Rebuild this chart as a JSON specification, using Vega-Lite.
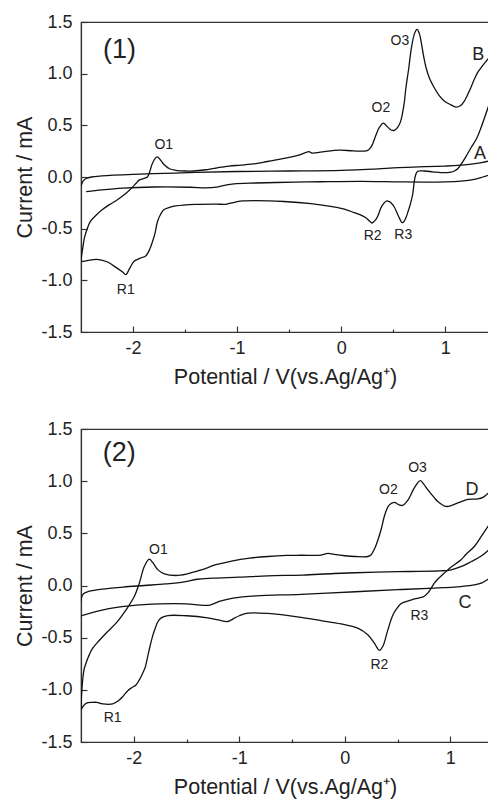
{
"$schema": "https://vega.github.io/schema/vega-lite/v6.json",
"padding": {"left": 14, "top": 12, "right": 0, "bottom": 0},
"spacing": 30,
"config": {
  "view": {"stroke": "#333", "strokeWidth": 1.2},
  "font": "Liberation Sans",
  "axis": {"labelFont": "Liberation Sans", "titleFont": "Liberation Sans", "labelFontSize": 18, "titleFontSize": 21.5, "titleFontWeight": "normal", "labelColor": "#222", "titleColor": "#222", "domainColor": "#333", "tickColor": "#333", "domainWidth": 1.2, "tickWidth": 1.2, "grid": false},
  "text": {"font": "Liberation Sans", "color": "#222"}
},
"datasets": {
"p1": [
{"c":"A1","i":0,"x":-2.5,"y":-0.085},{"c":"A1","i":1,"x":-2.48,"y":-0.04},{"c":"A1","i":2,"x":-2.45,"y":-0.015},{"c":"A1","i":3,"x":-2.4,"y":0.0},{"c":"A1","i":4,"x":-2.3,"y":0.01},{"c":"A1","i":5,"x":-2.0,"y":0.025},{"c":"A1","i":6,"x":-1.7,"y":0.035},{"c":"A1","i":7,"x":-1.4,"y":0.045},{"c":"A1","i":8,"x":-1.0,"y":0.053},{"c":"A1","i":9,"x":-0.5,"y":0.058},{"c":"A1","i":10,"x":0.0,"y":0.065},{"c":"A1","i":11,"x":0.3,"y":0.076},{"c":"A1","i":12,"x":0.55,"y":0.09},{"c":"A1","i":13,"x":0.8,"y":0.1},{"c":"A1","i":14,"x":1.0,"y":0.106},{"c":"A1","i":15,"x":1.12,"y":0.112},{"c":"A1","i":16,"x":1.25,"y":0.125},{"c":"A1","i":17,"x":1.35,"y":0.14},{"c":"A1","i":18,"x":1.43,"y":0.157},
{"c":"A2","i":0,"x":1.43,"y":0.022},{"c":"A2","i":1,"x":1.36,"y":0.0},{"c":"A2","i":2,"x":1.28,"y":-0.022},{"c":"A2","i":3,"x":1.15,"y":-0.04},{"c":"A2","i":4,"x":1.0,"y":-0.047},{"c":"A2","i":5,"x":0.6,"y":-0.048},{"c":"A2","i":6,"x":0.19,"y":-0.042},{"c":"A2","i":7,"x":-0.2,"y":-0.046},{"c":"A2","i":8,"x":-0.45,"y":-0.05},{"c":"A2","i":9,"x":-0.82,"y":-0.058},{"c":"A2","i":10,"x":-1.03,"y":-0.066},{"c":"A2","i":11,"x":-1.12,"y":-0.08},{"c":"A2","i":12,"x":-1.2,"y":-0.098},{"c":"A2","i":13,"x":-1.3,"y":-0.105},{"c":"A2","i":14,"x":-1.45,"y":-0.099},{"c":"A2","i":15,"x":-1.8,"y":-0.097},{"c":"A2","i":16,"x":-2.1,"y":-0.108},{"c":"A2","i":17,"x":-2.3,"y":-0.125},{"c":"A2","i":18,"x":-2.45,"y":-0.142},
{"c":"B1","i":0,"x":-2.5,"y":-0.8},{"c":"B1","i":1,"x":-2.485,"y":-0.7},{"c":"B1","i":2,"x":-2.465,"y":-0.58},{"c":"B1","i":3,"x":-2.44,"y":-0.5},{"c":"B1","i":4,"x":-2.41,"y":-0.43},{"c":"B1","i":5,"x":-2.37,"y":-0.385},{"c":"B1","i":6,"x":-2.3,"y":-0.32},{"c":"B1","i":7,"x":-2.231,"y":-0.27},{"c":"B1","i":8,"x":-2.15,"y":-0.22},{"c":"B1","i":9,"x":-2.07,"y":-0.16},{"c":"B1","i":10,"x":-2.006,"y":-0.1},{"c":"B1","i":11,"x":-1.97,"y":-0.06},{"c":"B1","i":12,"x":-1.942,"y":-0.03},{"c":"B1","i":13,"x":-1.9,"y":-0.015},{"c":"B1","i":14,"x":-1.862,"y":0.0},{"c":"B1","i":15,"x":-1.84,"y":0.05},{"c":"B1","i":16,"x":-1.81,"y":0.14},{"c":"B1","i":17,"x":-1.77,"y":0.194},{"c":"B1","i":18,"x":-1.74,"y":0.17},{"c":"B1","i":19,"x":-1.705,"y":0.123},{"c":"B1","i":20,"x":-1.65,"y":0.08},{"c":"B1","i":21,"x":-1.589,"y":0.065},{"c":"B1","i":22,"x":-1.5,"y":0.058},{"c":"B1","i":23,"x":-1.42,"y":0.058},{"c":"B1","i":24,"x":-1.3,"y":0.07},{"c":"B1","i":25,"x":-1.15,"y":0.095},{"c":"B1","i":26,"x":-1.077,"y":0.106},{"c":"B1","i":27,"x":-0.96,"y":0.115},{"c":"B1","i":28,"x":-0.82,"y":0.129},{"c":"B1","i":29,"x":-0.71,"y":0.15},{"c":"B1","i":30,"x":-0.6,"y":0.17},{"c":"B1","i":31,"x":-0.5,"y":0.19},{"c":"B1","i":32,"x":-0.4,"y":0.215},{"c":"B1","i":33,"x":-0.31,"y":0.245},{"c":"B1","i":34,"x":-0.28,"y":0.232},{"c":"B1","i":35,"x":-0.2,"y":0.24},{"c":"B1","i":36,"x":-0.07,"y":0.258},{"c":"B1","i":37,"x":0.0,"y":0.26},{"c":"B1","i":38,"x":0.12,"y":0.252},{"c":"B1","i":39,"x":0.25,"y":0.256},{"c":"B1","i":40,"x":0.28,"y":0.28},{"c":"B1","i":41,"x":0.302,"y":0.32},{"c":"B1","i":42,"x":0.335,"y":0.41},{"c":"B1","i":43,"x":0.365,"y":0.477},{"c":"B1","i":44,"x":0.405,"y":0.522},{"c":"B1","i":45,"x":0.44,"y":0.49},{"c":"B1","i":46,"x":0.48,"y":0.455},{"c":"B1","i":47,"x":0.51,"y":0.452},{"c":"B1","i":48,"x":0.56,"y":0.51},{"c":"B1","i":49,"x":0.6,"y":0.68},{"c":"B1","i":50,"x":0.622,"y":0.864},{"c":"B1","i":51,"x":0.65,"y":1.06},{"c":"B1","i":52,"x":0.67,"y":1.22},{"c":"B1","i":53,"x":0.702,"y":1.38},{"c":"B1","i":54,"x":0.728,"y":1.428},{"c":"B1","i":55,"x":0.75,"y":1.39},{"c":"B1","i":56,"x":0.767,"y":1.315},{"c":"B1","i":57,"x":0.79,"y":1.18},{"c":"B1","i":58,"x":0.815,"y":1.06},{"c":"B1","i":59,"x":0.85,"y":0.95},{"c":"B1","i":60,"x":0.894,"y":0.864},{"c":"B1","i":61,"x":0.94,"y":0.79},{"c":"B1","i":62,"x":0.99,"y":0.735},{"c":"B1","i":63,"x":1.05,"y":0.7},{"c":"B1","i":64,"x":1.103,"y":0.677},{"c":"B1","i":65,"x":1.145,"y":0.69},{"c":"B1","i":66,"x":1.183,"y":0.735},{"c":"B1","i":67,"x":1.23,"y":0.83},{"c":"B1","i":68,"x":1.279,"y":0.945},{"c":"B1","i":69,"x":1.31,"y":1.01},{"c":"B1","i":70,"x":1.343,"y":1.057},{"c":"B1","i":71,"x":1.43,"y":1.165},
{"c":"B2","i":0,"x":1.43,"y":0.73},{"c":"B2","i":1,"x":1.343,"y":0.477},{"c":"B2","i":2,"x":1.3,"y":0.37},{"c":"B2","i":3,"x":1.247,"y":0.283},{"c":"B2","i":4,"x":1.2,"y":0.2},{"c":"B2","i":5,"x":1.151,"y":0.123},{"c":"B2","i":6,"x":1.12,"y":0.08},{"c":"B2","i":7,"x":1.087,"y":0.058},{"c":"B2","i":8,"x":1.055,"y":0.047},{"c":"B2","i":9,"x":0.959,"y":0.042},{"c":"B2","i":10,"x":0.88,"y":0.05},{"c":"B2","i":11,"x":0.8,"y":0.058},{"c":"B2","i":12,"x":0.735,"y":0.055},{"c":"B2","i":13,"x":0.715,"y":0.02},{"c":"B2","i":14,"x":0.7,"y":-0.06},{"c":"B2","i":15,"x":0.687,"y":-0.167},{"c":"B2","i":16,"x":0.665,"y":-0.26},{"c":"B2","i":17,"x":0.644,"y":-0.329},{"c":"B2","i":18,"x":0.62,"y":-0.4},{"c":"B2","i":19,"x":0.6,"y":-0.435},{"c":"B2","i":20,"x":0.584,"y":-0.442},{"c":"B2","i":21,"x":0.565,"y":-0.41},{"c":"B2","i":22,"x":0.542,"y":-0.361},{"c":"B2","i":23,"x":0.51,"y":-0.29},{"c":"B2","i":24,"x":0.478,"y":-0.249},{"c":"B2","i":25,"x":0.45,"y":-0.233},{"c":"B2","i":26,"x":0.43,"y":-0.235},{"c":"B2","i":27,"x":0.405,"y":-0.26},{"c":"B2","i":28,"x":0.382,"y":-0.297},{"c":"B2","i":29,"x":0.355,"y":-0.37},{"c":"B2","i":30,"x":0.334,"y":-0.409},{"c":"B2","i":31,"x":0.31,"y":-0.435},{"c":"B2","i":32,"x":0.297,"y":-0.445},{"c":"B2","i":33,"x":0.265,"y":-0.42},{"c":"B2","i":34,"x":0.237,"y":-0.394},{"c":"B2","i":35,"x":0.18,"y":-0.365},{"c":"B2","i":36,"x":0.125,"y":-0.345},{"c":"B2","i":37,"x":0.03,"y":-0.31},{"c":"B2","i":38,"x":-0.1,"y":-0.285},{"c":"B2","i":39,"x":-0.29,"y":-0.258},{"c":"B2","i":40,"x":-0.55,"y":-0.237},{"c":"B2","i":41,"x":-0.82,"y":-0.228},{"c":"B2","i":42,"x":-0.95,"y":-0.232},{"c":"B2","i":43,"x":-1.05,"y":-0.25},{"c":"B2","i":44,"x":-1.109,"y":-0.264},{"c":"B2","i":45,"x":-1.2,"y":-0.262},{"c":"B2","i":46,"x":-1.4,"y":-0.265},{"c":"B2","i":47,"x":-1.589,"y":-0.28},{"c":"B2","i":48,"x":-1.65,"y":-0.295},{"c":"B2","i":49,"x":-1.702,"y":-0.315},{"c":"B2","i":50,"x":-1.735,"y":-0.36},{"c":"B2","i":51,"x":-1.765,"y":-0.43},{"c":"B2","i":52,"x":-1.79,"y":-0.55},{"c":"B2","i":53,"x":-1.813,"y":-0.625},{"c":"B2","i":54,"x":-1.84,"y":-0.7},{"c":"B2","i":55,"x":-1.878,"y":-0.764},{"c":"B2","i":56,"x":-1.93,"y":-0.785},{"c":"B2","i":57,"x":-1.99,"y":-0.815},{"c":"B2","i":58,"x":-2.03,"y":-0.88},{"c":"B2","i":59,"x":-2.07,"y":-0.945},{"c":"B2","i":60,"x":-2.1,"y":-0.92},{"c":"B2","i":61,"x":-2.186,"y":-0.86},{"c":"B2","i":62,"x":-2.25,"y":-0.82},{"c":"B2","i":63,"x":-2.35,"y":-0.797},{"c":"B2","i":64,"x":-2.44,"y":-0.81},{"c":"B2","i":65,"x":-2.5,"y":-0.82}
],
"p2": [
{"c":"C1","i":0,"x":-2.5,"y":-0.15},{"c":"C1","i":1,"x":-2.49,"y":-0.1},{"c":"C1","i":2,"x":-2.47,"y":-0.075},{"c":"C1","i":3,"x":-2.44,"y":-0.06},{"c":"C1","i":4,"x":-2.3,"y":-0.035},{"c":"C1","i":5,"x":-2.1,"y":-0.015},{"c":"C1","i":6,"x":-1.9,"y":0.0},{"c":"C1","i":7,"x":-1.7,"y":0.015},{"c":"C1","i":8,"x":-1.52,"y":0.035},{"c":"C1","i":9,"x":-1.4,"y":0.06},{"c":"C1","i":10,"x":-1.25,"y":0.07},{"c":"C1","i":11,"x":-1.0,"y":0.08},{"c":"C1","i":12,"x":-0.73,"y":0.093},{"c":"C1","i":13,"x":-0.4,"y":0.1},{"c":"C1","i":14,"x":-0.1,"y":0.115},{"c":"C1","i":15,"x":0.3,"y":0.128},{"c":"C1","i":16,"x":0.6,"y":0.134},{"c":"C1","i":17,"x":0.9,"y":0.14},{"c":"C1","i":18,"x":1.0,"y":0.148},{"c":"C1","i":19,"x":1.1,"y":0.18},{"c":"C1","i":20,"x":1.2,"y":0.23},{"c":"C1","i":21,"x":1.29,"y":0.28},{"c":"C1","i":22,"x":1.38,"y":0.355},
{"c":"C2","i":0,"x":1.38,"y":0.075},{"c":"C2","i":1,"x":1.3,"y":0.025},{"c":"C2","i":2,"x":1.23,"y":0.005},{"c":"C2","i":3,"x":1.1,"y":-0.01},{"c":"C2","i":4,"x":0.85,"y":-0.025},{"c":"C2","i":5,"x":0.5,"y":-0.04},{"c":"C2","i":6,"x":0.1,"y":-0.06},{"c":"C2","i":7,"x":-0.415,"y":-0.085},{"c":"C2","i":8,"x":-0.84,"y":-0.099},{"c":"C2","i":9,"x":-1.06,"y":-0.121},{"c":"C2","i":10,"x":-1.19,"y":-0.153},{"c":"C2","i":11,"x":-1.28,"y":-0.188},{"c":"C2","i":12,"x":-1.4,"y":-0.185},{"c":"C2","i":13,"x":-1.5,"y":-0.176},{"c":"C2","i":14,"x":-1.75,"y":-0.176},{"c":"C2","i":15,"x":-2.04,"y":-0.195},{"c":"C2","i":16,"x":-2.29,"y":-0.233},{"c":"C2","i":17,"x":-2.5,"y":-0.291},
{"c":"D1","i":0,"x":-2.5,"y":-1.19},{"c":"D1","i":1,"x":-2.495,"y":-1.05},{"c":"D1","i":2,"x":-2.484,"y":-0.905},{"c":"D1","i":3,"x":-2.47,"y":-0.8},{"c":"D1","i":4,"x":-2.453,"y":-0.745},{"c":"D1","i":5,"x":-2.42,"y":-0.66},{"c":"D1","i":6,"x":-2.389,"y":-0.6},{"c":"D1","i":7,"x":-2.33,"y":-0.53},{"c":"D1","i":8,"x":-2.263,"y":-0.457},{"c":"D1","i":9,"x":-2.168,"y":-0.361},{"c":"D1","i":10,"x":-2.073,"y":-0.233},{"c":"D1","i":11,"x":-1.995,"y":-0.106},{"c":"D1","i":12,"x":-1.947,"y":0.023},{"c":"D1","i":13,"x":-1.9,"y":0.182},{"c":"D1","i":14,"x":-1.853,"y":0.253},{"c":"D1","i":15,"x":-1.82,"y":0.22},{"c":"D1","i":16,"x":-1.77,"y":0.15},{"c":"D1","i":17,"x":-1.71,"y":0.112},{"c":"D1","i":18,"x":-1.6,"y":0.096},{"c":"D1","i":19,"x":-1.5,"y":0.11},{"c":"D1","i":20,"x":-1.36,"y":0.15},{"c":"D1","i":21,"x":-1.22,"y":0.199},{"c":"D1","i":22,"x":-1.062,"y":0.237},{"c":"D1","i":23,"x":-0.9,"y":0.262},{"c":"D1","i":24,"x":-0.73,"y":0.278},{"c":"D1","i":25,"x":-0.55,"y":0.288},{"c":"D1","i":26,"x":-0.415,"y":0.29},{"c":"D1","i":27,"x":-0.225,"y":0.292},{"c":"D1","i":28,"x":-0.16,"y":0.308},{"c":"D1","i":29,"x":-0.1,"y":0.298},{"c":"D1","i":30,"x":0.0,"y":0.285},{"c":"D1","i":31,"x":0.1,"y":0.278},{"c":"D1","i":32,"x":0.218,"y":0.278},{"c":"D1","i":33,"x":0.25,"y":0.295},{"c":"D1","i":34,"x":0.29,"y":0.37},{"c":"D1","i":35,"x":0.344,"y":0.534},{"c":"D1","i":36,"x":0.38,"y":0.68},{"c":"D1","i":37,"x":0.42,"y":0.77},{"c":"D1","i":38,"x":0.47,"y":0.797},{"c":"D1","i":39,"x":0.51,"y":0.775},{"c":"D1","i":40,"x":0.549,"y":0.768},{"c":"D1","i":41,"x":0.6,"y":0.82},{"c":"D1","i":42,"x":0.659,"y":0.935},{"c":"D1","i":43,"x":0.716,"y":1.005},{"c":"D1","i":44,"x":0.75,"y":0.97},{"c":"D1","i":45,"x":0.786,"y":0.918},{"c":"D1","i":46,"x":0.85,"y":0.84},{"c":"D1","i":47,"x":0.881,"y":0.806},{"c":"D1","i":48,"x":0.96,"y":0.758},{"c":"D1","i":49,"x":1.02,"y":0.77},{"c":"D1","i":50,"x":1.071,"y":0.791},{"c":"D1","i":51,"x":1.166,"y":0.825},{"c":"D1","i":52,"x":1.26,"y":0.83},{"c":"D1","i":53,"x":1.31,"y":0.845},{"c":"D1","i":54,"x":1.38,"y":0.905},
{"c":"D2","i":0,"x":1.38,"y":0.6},{"c":"D2","i":1,"x":1.3,"y":0.48},{"c":"D2","i":2,"x":1.228,"y":0.374},{"c":"D2","i":3,"x":1.15,"y":0.3},{"c":"D2","i":4,"x":1.102,"y":0.247},{"c":"D2","i":5,"x":1.0,"y":0.17},{"c":"D2","i":6,"x":0.944,"y":0.119},{"c":"D2","i":7,"x":0.88,"y":0.06},{"c":"D2","i":8,"x":0.849,"y":0.023},{"c":"D2","i":9,"x":0.81,"y":-0.04},{"c":"D2","i":10,"x":0.786,"y":-0.073},{"c":"D2","i":11,"x":0.75,"y":-0.105},{"c":"D2","i":12,"x":0.7,"y":-0.12},{"c":"D2","i":13,"x":0.64,"y":-0.135},{"c":"D2","i":14,"x":0.58,"y":-0.155},{"c":"D2","i":15,"x":0.532,"y":-0.175},{"c":"D2","i":16,"x":0.49,"y":-0.225},{"c":"D2","i":17,"x":0.453,"y":-0.29},{"c":"D2","i":18,"x":0.407,"y":-0.43},{"c":"D2","i":19,"x":0.36,"y":-0.585},{"c":"D2","i":20,"x":0.328,"y":-0.622},{"c":"D2","i":21,"x":0.3,"y":-0.585},{"c":"D2","i":22,"x":0.28,"y":-0.553},{"c":"D2","i":23,"x":0.218,"y":-0.473},{"c":"D2","i":24,"x":0.123,"y":-0.409},{"c":"D2","i":25,"x":-0.036,"y":-0.368},{"c":"D2","i":26,"x":-0.225,"y":-0.336},{"c":"D2","i":27,"x":-0.415,"y":-0.305},{"c":"D2","i":28,"x":-0.73,"y":-0.268},{"c":"D2","i":29,"x":-0.92,"y":-0.265},{"c":"D2","i":30,"x":-1.0,"y":-0.29},{"c":"D2","i":31,"x":-1.046,"y":-0.313},{"c":"D2","i":32,"x":-1.11,"y":-0.345},{"c":"D2","i":33,"x":-1.2,"y":-0.33},{"c":"D2","i":34,"x":-1.3,"y":-0.31},{"c":"D2","i":35,"x":-1.5,"y":-0.29},{"c":"D2","i":36,"x":-1.678,"y":-0.288},{"c":"D2","i":37,"x":-1.74,"y":-0.31},{"c":"D2","i":38,"x":-1.773,"y":-0.35},{"c":"D2","i":39,"x":-1.8,"y":-0.42},{"c":"D2","i":40,"x":-1.82,"y":-0.48},{"c":"D2","i":41,"x":-1.845,"y":-0.58},{"c":"D2","i":42,"x":-1.868,"y":-0.681},{"c":"D2","i":43,"x":-1.89,"y":-0.78},{"c":"D2","i":44,"x":-1.915,"y":-0.841},{"c":"D2","i":45,"x":-1.95,"y":-0.91},{"c":"D2","i":46,"x":-1.979,"y":-0.953},{"c":"D2","i":47,"x":-2.02,"y":-0.98},{"c":"D2","i":48,"x":-2.057,"y":-1.008},{"c":"D2","i":49,"x":-2.1,"y":-1.06},{"c":"D2","i":50,"x":-2.137,"y":-1.097},{"c":"D2","i":51,"x":-2.2,"y":-1.135},{"c":"D2","i":52,"x":-2.294,"y":-1.135},{"c":"D2","i":53,"x":-2.35,"y":-1.12},{"c":"D2","i":54,"x":-2.389,"y":-1.12},{"c":"D2","i":55,"x":-2.453,"y":-1.13},{"c":"D2","i":56,"x":-2.5,"y":-1.19}
],
"l1": [
{"t":"(1)","k":"panel","x":-2.13,"y":1.23},
{"t":"O1","k":"peak","x":-1.705,"y":0.306},{"t":"O2","k":"peak","x":0.382,"y":0.67},{"t":"O3","k":"peak","x":0.564,"y":1.32},
{"t":"R1","k":"peak","x":-2.07,"y":-1.096},{"t":"R2","k":"peak","x":0.302,"y":-0.567},{"t":"R3","k":"peak","x":0.596,"y":-0.564},
{"t":"A","k":"curve","x":1.333,"y":0.225},{"t":"B","k":"curve","x":1.317,"y":1.18}
],
"l2": [
{"t":"(2)","k":"panel","x":-2.137,"y":1.27},
{"t":"O1","k":"peak","x":-1.767,"y":0.336},{"t":"O2","k":"peak","x":0.413,"y":0.918},{"t":"O3","k":"peak","x":0.69,"y":1.127},
{"t":"R1","k":"peak","x":-2.2,"y":-1.273},{"t":"R2","k":"peak","x":0.328,"y":-0.761},{"t":"R3","k":"peak","x":0.707,"y":-0.297},
{"t":"D","k":"curve","x":1.206,"y":0.918},{"t":"C","k":"curve","x":1.14,"y":-0.169}
]
},
"vconcat": [
{
 "width": 408, "height": 310,
 "layer": [
  {"data": {"name": "p1"},
   "mark": {"type": "line", "interpolate": "catmull-rom", "color": "#111", "strokeWidth": 1.3, "clip": true},
   "encoding": {
    "x": {"field": "x", "type": "quantitative", "scale": {"domain": [-2.5, 1.42], "nice": false, "zero": false},
          "axis": {"values": [-2, -1.5, -1, -0.5, 0, 0.5, 1], "labelExpr": "datum.value % 1 === 0 ? replace(format(datum.value, 'd'), '\u2212', '-') : ''", "tickSize": {"condition": {"test": "datum.value % 1 === 0", "value": -6}, "value": -3}, "labelPadding": 13, "title": "Potential / V(vs.Ag/Ag\u207a)", "titlePadding": 9}},
    "y": {"field": "y", "type": "quantitative", "scale": {"domain": [-1.5, 1.5], "nice": false, "zero": false},
          "axis": {"values": [-1.5, -1.25, -1, -0.75, -0.5, -0.25, 0, 0.25, 0.5, 0.75, 1, 1.25, 1.5], "labelExpr": "datum.value % 0.5 === 0 ? replace(format(datum.value, '.1f'), '\u2212', '-') : ''", "tickSize": {"condition": {"test": "datum.value % 0.5 === 0", "value": -6}, "value": -3}, "labelPadding": 15, "title": "Current / mA", "titlePadding": 4}},
    "detail": {"field": "c"},
    "order": {"field": "i", "type": "quantitative"}
   }},
  {"data": {"name": "l1"}, "transform": [{"filter": "datum.k === 'panel'"}],
   "mark": {"type": "text", "fontSize": 27, "align": "center", "baseline": "middle"},
   "encoding": {"x": {"field": "x", "type": "quantitative", "scale": {"domain": [-2.5, 1.42], "nice": false, "zero": false}},
                "y": {"field": "y", "type": "quantitative", "scale": {"domain": [-1.5, 1.5], "nice": false, "zero": false}},
                "text": {"field": "t"}}},
  {"data": {"name": "l1"}, "transform": [{"filter": "datum.k === 'peak'"}],
   "mark": {"type": "text", "fontSize": 14, "align": "center", "baseline": "middle"},
   "encoding": {"x": {"field": "x", "type": "quantitative", "scale": {"domain": [-2.5, 1.42], "nice": false, "zero": false}},
                "y": {"field": "y", "type": "quantitative", "scale": {"domain": [-1.5, 1.5], "nice": false, "zero": false}},
                "text": {"field": "t"}}},
  {"data": {"name": "l1"}, "transform": [{"filter": "datum.k === 'curve'"}],
   "mark": {"type": "text", "fontSize": 18, "align": "center", "baseline": "middle"},
   "encoding": {"x": {"field": "x", "type": "quantitative", "scale": {"domain": [-2.5, 1.42], "nice": false, "zero": false}},
                "y": {"field": "y", "type": "quantitative", "scale": {"domain": [-1.5, 1.5], "nice": false, "zero": false}},
                "text": {"field": "t"}}}
 ]
},
{
 "width": 408, "height": 313,
 "layer": [
  {"data": {"name": "p2"},
   "mark": {"type": "line", "interpolate": "catmull-rom", "color": "#111", "strokeWidth": 1.3, "clip": true},
   "encoding": {
    "x": {"field": "x", "type": "quantitative", "scale": {"domain": [-2.5, 1.367], "nice": false, "zero": false},
          "axis": {"values": [-2, -1.5, -1, -0.5, 0, 0.5, 1], "labelExpr": "datum.value % 1 === 0 ? replace(format(datum.value, 'd'), '\u2212', '-') : ''", "tickSize": {"condition": {"test": "datum.value % 1 === 0", "value": -6}, "value": -3}, "labelPadding": 13, "title": "Potential / V(vs.Ag/Ag\u207a)", "titlePadding": 9}},
    "y": {"field": "y", "type": "quantitative", "scale": {"domain": [-1.5, 1.5], "nice": false, "zero": false},
          "axis": {"values": [-1.5, -1.25, -1, -0.75, -0.5, -0.25, 0, 0.25, 0.5, 0.75, 1, 1.25, 1.5], "labelExpr": "datum.value % 0.5 === 0 ? replace(format(datum.value, '.1f'), '\u2212', '-') : ''", "tickSize": {"condition": {"test": "datum.value % 0.5 === 0", "value": -6}, "value": -3}, "labelPadding": 15, "title": "Current / mA", "titlePadding": 4}},
    "detail": {"field": "c"},
    "order": {"field": "i", "type": "quantitative"}
   }},
  {"data": {"name": "l2"}, "transform": [{"filter": "datum.k === 'panel'"}],
   "mark": {"type": "text", "fontSize": 27, "align": "center", "baseline": "middle"},
   "encoding": {"x": {"field": "x", "type": "quantitative", "scale": {"domain": [-2.5, 1.367], "nice": false, "zero": false}},
                "y": {"field": "y", "type": "quantitative", "scale": {"domain": [-1.5, 1.5], "nice": false, "zero": false}},
                "text": {"field": "t"}}},
  {"data": {"name": "l2"}, "transform": [{"filter": "datum.k === 'peak'"}],
   "mark": {"type": "text", "fontSize": 14, "align": "center", "baseline": "middle"},
   "encoding": {"x": {"field": "x", "type": "quantitative", "scale": {"domain": [-2.5, 1.367], "nice": false, "zero": false}},
                "y": {"field": "y", "type": "quantitative", "scale": {"domain": [-1.5, 1.5], "nice": false, "zero": false}},
                "text": {"field": "t"}}},
  {"data": {"name": "l2"}, "transform": [{"filter": "datum.k === 'curve'"}],
   "mark": {"type": "text", "fontSize": 18, "align": "center", "baseline": "middle"},
   "encoding": {"x": {"field": "x", "type": "quantitative", "scale": {"domain": [-2.5, 1.367], "nice": false, "zero": false}},
                "y": {"field": "y", "type": "quantitative", "scale": {"domain": [-1.5, 1.5], "nice": false, "zero": false}},
                "text": {"field": "t"}}}
 ]
}
]
}
